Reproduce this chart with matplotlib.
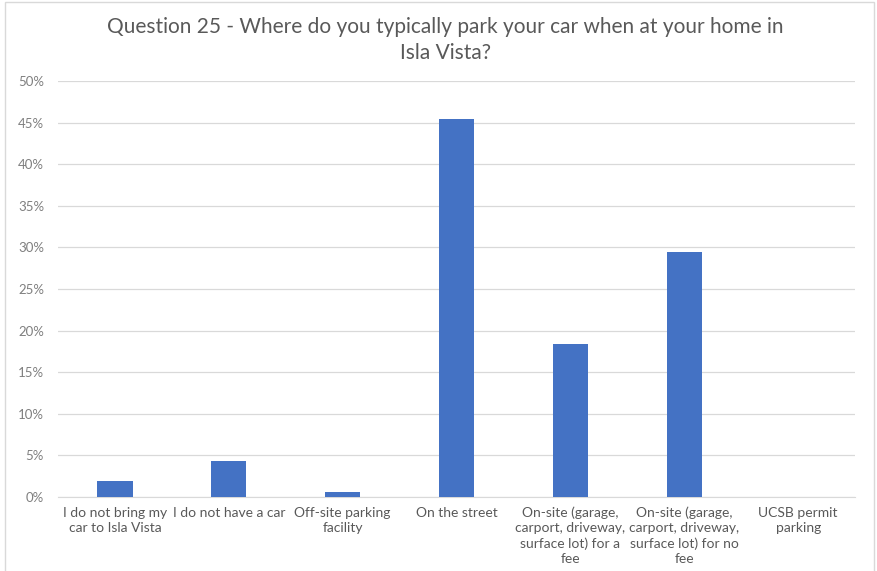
import numpy as np
import matplotlib.pyplot as plt
from matplotlib.ticker import PercentFormatter
from matplotlib.patches import Rectangle

# Question 25 responses (share of respondents)
categories = [
    "I do not bring my\ncar to Isla Vista",
    "I do not have a car",
    "Off-site parking\nfacility",
    "On the street",
    "On-site (garage,\ncarport, driveway,\nsurface lot) for a\nfee",
    "On-site (garage,\ncarport, driveway,\nsurface lot) for no\nfee",
    "UCSB permit\nparking",
]
shares = [1.9, 4.3, 0.6, 45.4, 18.4, 29.4, 0.0]
y_ticks = [0, 5, 10, 15, 20, 25, 30, 35, 40, 45, 50]

plt.rcParams['font.family'] = ['Lato', 'DejaVu Sans']

fig = plt.figure(figsize=(8.78, 5.71), dpi=100)
ax = fig.add_axes([0.066, 0.1296, 0.908, 0.7284])

# light chart-area border like the spreadsheet export
fig.patches.append(Rectangle((0.006, -0.01), 0.99, 1.006, transform=fig.transFigure,
                             fill=False, edgecolor='#d9d9d9', linewidth=1))

x = np.arange(len(categories))
ax.bar(x, shares, width=0.31, color='#4472c4', zorder=3)

ax.set_xlim(-0.5, len(categories) - 0.5)
ax.set_ylim(0, 50)
ax.set_yticks(y_ticks)
ax.yaxis.set_major_formatter(PercentFormatter(decimals=0))
ax.grid(axis='y', color='#d9d9d9', linewidth=0.9, zorder=0)
for s in ['top', 'right', 'left']:
    ax.spines[s].set_visible(False)
ax.spines['bottom'].set_color('#d9d9d9')
ax.tick_params(axis='both', length=0, colors='#595959')
ax.tick_params(axis='y', labelsize=9.5, pad=10, labelcolor='#7f7f7f')
ax.set_xticks(x)
ax.set_xticklabels(categories, fontsize=10, color='#595959', linespacing=1.3, va='top')
ax.tick_params(axis='x', pad=7)

fig.text(0.507, 0.97, "Question 25 - Where do you typically park your car when at your home in\nIsla Vista?",
         ha='center', va='top', fontsize=15, color='#595959', linespacing=1.35)

fig.savefig('out.png', dpi=100)
